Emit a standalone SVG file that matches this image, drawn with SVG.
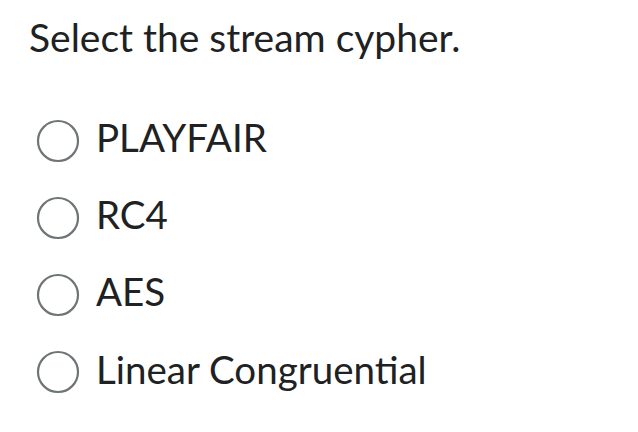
<svg xmlns="http://www.w3.org/2000/svg" width="638" height="432" viewBox="0 0 638 432">
<style>
text{font-family:Lato,"Liberation Sans",sans-serif;fill:#202122}
.t{font-size:39px}
.o{font-size:38.5px}
circle{fill:#fff;stroke:#6f7477;stroke-width:2.2}
</style>
<rect width="638" height="432" fill="#fff"/>
<text class="t" x="29" y="52">Select the stream cypher.</text>
<g id="opt1"><circle cx="58" cy="141" r="20"/><text class="o" x="96" y="152">PLAYFAIR</text></g>
<g id="opt2"><circle cx="58" cy="218" r="20"/><text class="o" x="96" y="229">RC4</text></g>
<g id="opt3"><circle cx="58" cy="295" r="20"/><text class="o" x="96" y="306">AES</text></g>
<g id="opt4"><circle cx="58" cy="372" r="20"/><text class="o" x="96" y="384">Linear Congruential</text></g>
<g id="connectors"/>
</svg>
